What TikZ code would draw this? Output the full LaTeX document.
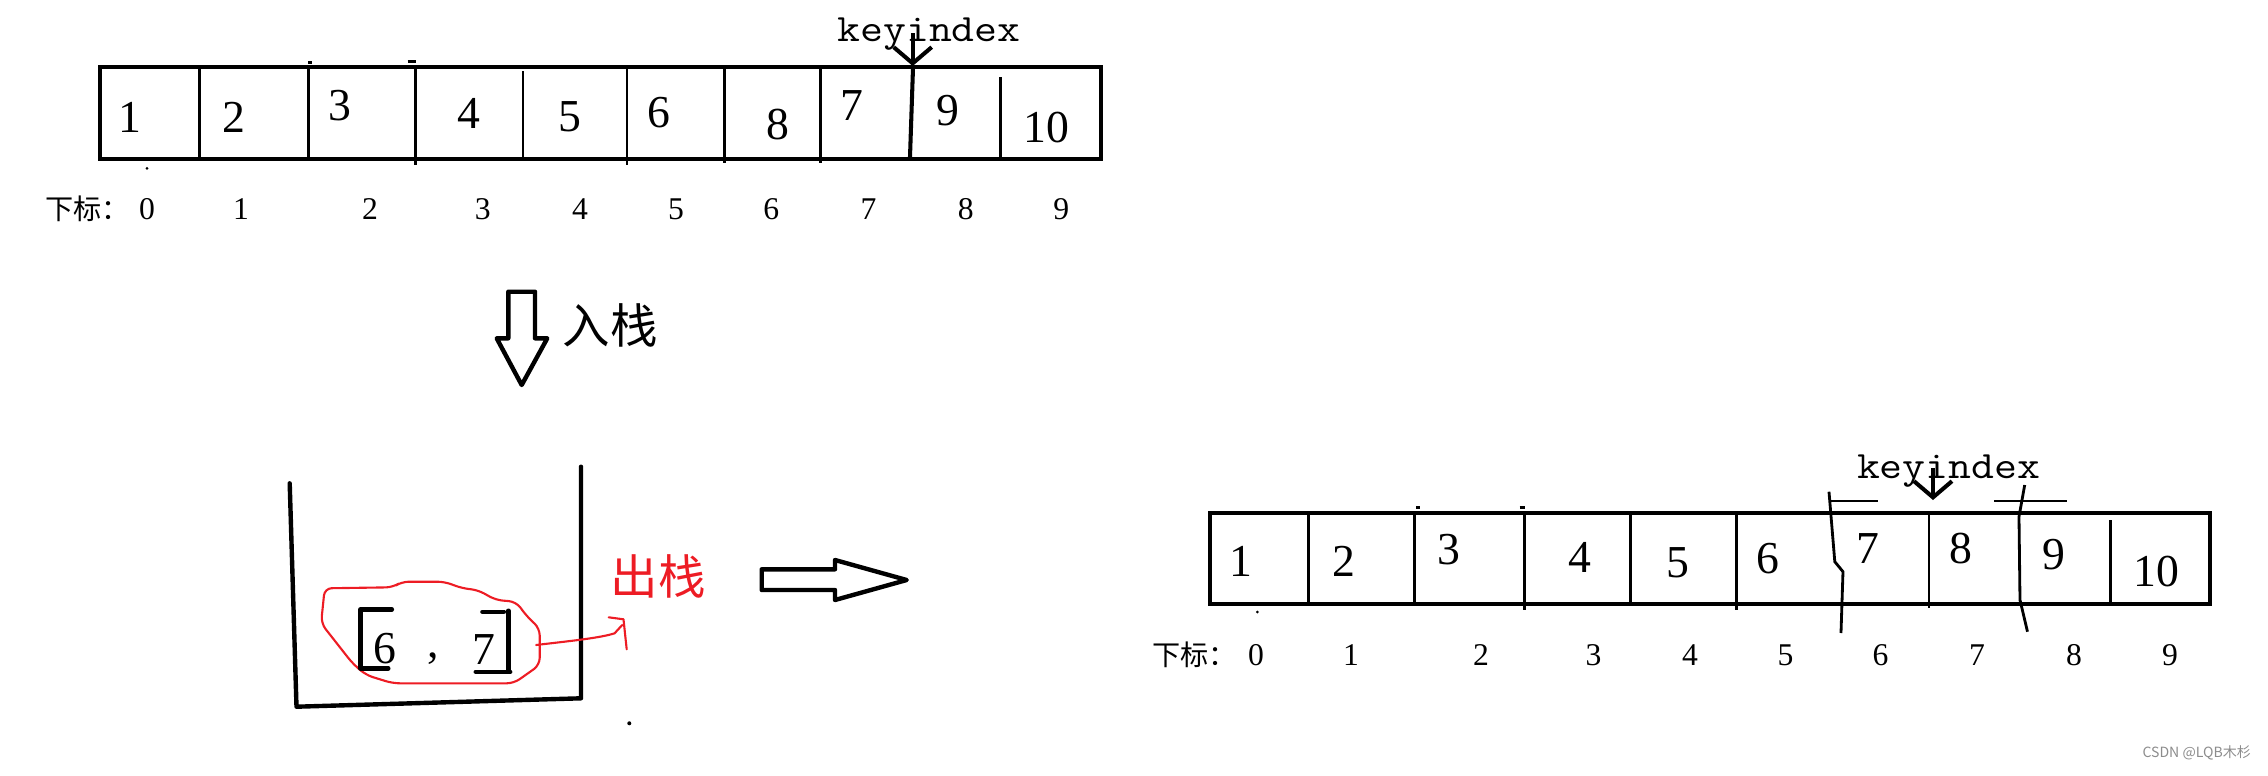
\documentclass[tikz,border=0pt]{standalone}
\usepackage{fontspec}
\setmainfont{Liberation Serif}
\newfontfamily\cjk{Noto Sans CJK SC}
\usetikzlibrary{arrows.meta}
\definecolor{paintred}{RGB}{237,28,36}
\tikzset{
	box/.style={line width=1.15pt},
	sep/.style={line width=0.8pt},
	num/.style={inner sep=0pt, font=\fontsize{13}{13}\selectfont},
	idx/.style={inner sep=0pt, font=\fontsize{9}{9}\selectfont},
	idxhead/.style={inner sep=0pt, anchor=west, font=\cjk\fontsize{8}{8}\selectfont},
	keylab/.style={inner sep=0pt, anchor=base, font=\ttfamily\fontsize{11}{11}\selectfont},
	keyarrow/.style={line width=1.15pt, -{Straight Barb[length=4.6pt,width=10.8pt]}},
	hand/.style={line width=1.25pt, line cap=round, line join=round},
	zh/.style={inner sep=0pt, font=\cjk\fontsize{13.5}{13.5}\selectfont},
	blob/.style={paintred, line width=0.6pt, line join=round, line cap=round},
}

\begin{document}
\begin{tikzpicture}[x=0.01cm,y=-0.01cm]
			%%%%% START %%%%%
			\useasboundingbox (0,0) rectangle (2268,775);
			
			% array before the swap
			\draw[box] (100,67) rectangle (1101,159);
			\draw[sep] (199.5,67) -- (199.5,159);
			\draw[sep] (308.2,67) -- (308.2,159);
			\draw[sep] (415.6,67) -- (415.6,165);
			\draw[sep] (523,71) -- (523,159);
			\draw[sep] (627,67) -- (627,165);
			\draw[sep] (724.3,68) -- (724.3,163);
			\draw[sep] (820.3,67) -- (820.3,163);
			\draw[box] (913,68) -- (910,157);
			\draw[sep] (1000.8,77) -- (1000.8,159);
			\draw[sep] (308,62.3) -- (311.5,62.3);
			\draw[sep] (407.5,61.7) -- (415.6,61.7);
			\fill (147,168.3) circle (1.5);
			
			\node[num] (t0) at (130.3,117.5) {1};
			\node[num] (t1) at (234.4,117) {2};
			\node[num] (t2) at (340.4,106) {3};
			\node[num] (t3) at (469.3,113) {4};
			\node[num] (t4) at (570,117) {5};
			\node[num] (t5) at (658.5,112.5) {6};
			\node[num] (t6) at (778,125) {8};
			\node[num] (t7) at (851.8,106) {7};
			\node[num] (t8) at (947.8,111) {9};
			\node[num] (t9) at (1046.4,128) {10};
			
			\node[keylab] (ka) at (929,41.7) {\scalebox{1.15}[1]{keyindex}};
			\coordinate (kas) at (912.7,33);
			\coordinate (kae) at (912.7,66);
			\draw[keyarrow] (kas) -- (kae);
			
			\node[idxhead] (ha) at (45,209) {下标：};
			\node[idx] (ia0) at (147.1,209) {0};
			\node[idx] (ia1) at (241,209) {1};
			\node[idx] (ia2) at (370,209) {2};
			\node[idx] (ia3) at (482.7,209) {3};
			\node[idx] (ia4) at (580,209) {4};
			\node[idx] (ia5) at (676,209) {5};
			\node[idx] (ia6) at (771.3,209) {6};
			\node[idx] (ia7) at (868.6,209) {7};
			\node[idx] (ia8) at (965.9,209) {8};
			\node[idx] (ia9) at (1061.2,209) {9};
			
			% push
			\draw[hand] (508.3,291.7) -- (535,291.7) -- (535,338.3) -- (547.3,338.3) -- (521.7,385) -- (496.7,338.3) -- (508.3,338.3) -- cycle;
			\node[zh] (push) at (610,325) {入栈};
			
			% stack
			\draw[hand] (289.7,483.3) -- (296.5,706.7) -- (581,698.3) -- (581,466.7);
			\draw[blob, rounded corners=2pt] (324.7,588.3) -- (392.8,587.3) -- (401.8,581.7) -- (444.4,581.7) -- (462.3,588.3) -- (477.9,590) -- (495.8,600) -- (516,601.7) -- (527.2,616.7) -- (539.7,628.3) -- (539.7,665) -- (513.8,683.3) -- (392.8,683.3) -- (366,675) -- (352.5,663.3) -- (321.1,623.3) -- cycle;
			\draw[hand] (391.9,609.3) -- (360.5,609.3) -- (360.5,668.3) -- (388.3,668.3);
			\draw[hand] (482.4,611.7) -- (503.9,611.7);
			\draw[hand] (508.4,610.7) -- (508.4,671.7);
			\draw[hand] (475.7,671.7) -- (510.2,671.7);
			\node[num] (s6) at (385.4,649) {6};
			\node[num] (sc) at (433,659) {,};
			\node[num] (s7) at (484,650) {7};
			\draw[blob] (536.1,645) .. controls (570,641) and (600,638) .. (614.6,633.3) -- (622.2,625);
			\draw[blob] (608.7,617.3) -- (623.5,619.3) -- (626.7,649.3);
			\node[zh, text=paintred] (pop) at (658.3,576.7) {出栈};
			\fill (629.3,723.3) circle (2);
			
			\draw[hand] (761.7,569.3) -- (835,569.3) -- (835,560) -- (906.7,580) -- (835,600) -- (835,590) -- (761.7,590) -- cycle;
			
			% array after the swap
			\draw[box] (1210,513) rectangle (2210,604);
			\draw[sep] (1308.7,513) -- (1308.7,604);
			\draw[sep] (1414.2,513) -- (1414.2,604);
			\draw[sep] (1524.6,513) -- (1524.6,610);
			\draw[sep] (1630.1,515) -- (1630.1,604);
			\draw[sep] (1736.3,515) -- (1736.3,610);
			\draw[sep] (1829,491.7) -- (1834.8,561.7) -- (1843,571.7) -- (1841,633);
			\draw[sep] (1929,513) -- (1929,608);
			\draw[sep] (2024.7,485) -- (2019,516.7) -- (2020,600) -- (2027.5,631.7);
			\draw[sep] (2110.5,520) -- (2110.5,604);
			\draw[sep] (1829,501) -- (1878.4,501);
			\draw[sep] (1994.4,501) -- (2066.9,501);
			\draw[sep] (1416,507.3) -- (1419.5,507.3);
			\draw[sep] (1519.7,507.3) -- (1525.4,507.3);
			\fill (1257.4,612) circle (1.5);
			
			\node[num] (b0) at (1240.6,561.7) {1};
			\node[num] (b1) at (1344,561.7) {2};
			\node[num] (b2) at (1449.4,550) {3};
			\node[num] (b3) at (1579.5,557.5) {4};
			\node[num] (b4) at (1678,562.5) {5};
			\node[num] (b5) at (1768,559) {6};
			\node[num] (b6) at (1867.8,548.3) {7};
			\node[num] (b7) at (1961.4,548.3) {8};
			\node[num] (b8) at (2054,555) {9};
			\node[num] (b9) at (2156,571.7) {10};
			
			\node[keylab] (kb) at (1948.7,478.3) {\scalebox{1.15}[1]{keyindex}};
			\coordinate (kbs) at (1933,468.3);
			\coordinate (kbe) at (1933,500);
			\draw[keyarrow] (kbs) -- (kbe);
			
			\node[idxhead] (hb) at (1152,655) {下标：};
			\node[idx] (ib0) at (1256,655) {0};
			\node[idx] (ib1) at (1351,655) {1};
			\node[idx] (ib2) at (1481,655) {2};
			\node[idx] (ib3) at (1593.6,655) {3};
			\node[idx] (ib4) at (1690,655) {4};
			\node[idx] (ib5) at (1785.6,655) {5};
			\node[idx] (ib6) at (1880.5,655) {6};
			\node[idx] (ib7) at (1977,655) {7};
			\node[idx] (ib8) at (2074,655) {8};
			\node[idx] (ib9) at (2170,655) {9};
			
			\node[inner sep=0pt, text=black!45, font=\cjk\fontsize{4}{4}\selectfont] (mark) at (2196.7,753) {CSDN @LQB木杉};
			%%%%% END %%%%%
\end{tikzpicture}
\end{document}
